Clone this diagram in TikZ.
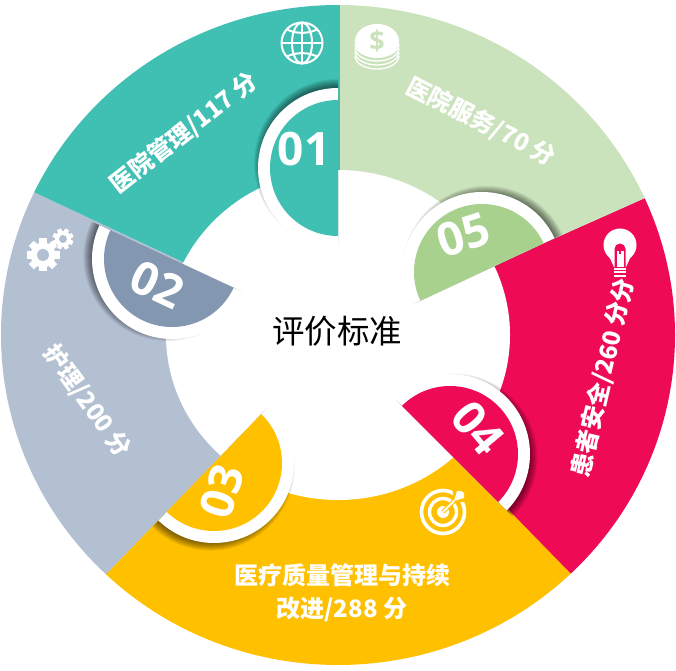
\documentclass[tikz,border=0pt]{standalone}
\usepackage{fontspec}
\newfontfamily\cjk{Noto Sans CJK SC}
\newfontfamily\numfont{Open Sans}
\definecolor{cteal}{HTML}{3FC0B3}
\definecolor{cgreen}{HTML}{CBE3BC}
\definecolor{cpink}{HTML}{EE0A55}
\definecolor{cyellow}{HTML}{FFC000}
\definecolor{cgrey}{HTML}{B3C0D2}
\definecolor{cgreyd}{HTML}{8497B0}
\definecolor{cgreend}{HTML}{A9D18E}
\tikzset{
  lbl/.style={text=white,font=\cjk\bfseries\fontsize{24}{33}\selectfont,inner sep=0pt,align=center},
  numlbl/.style={text=white,font=\numfont\bfseries\fontsize{46}{46}\selectfont,inner sep=0pt},
  iconline/.style={draw=white,line width=2pt,fill=none},
}
% sector: start angle, end angle, colour
\newcommand{\sectorfill}[3]{%
  \fill[#3] (338,335) -- ++(#1:337pt and 330pt)
    arc[start angle=#1,end angle=#2,x radius=337pt,y radius=330pt] -- cycle;}
% half disc: x, y (image), rotation, colour, node name, text x, y, text rotation, number
\newcommand{\halfdisc}[9]{%
  \begin{scope}[shift={(#1,670-#2)},rotate=#3]
    \begin{scope}
      \clip (-130,-130) rectangle (0,130);
      \foreach \k in {0,...,9}{
        \fill[black,opacity=0.07] (0,5) circle[radius=84-\k];
      }
      \fill[white] (0,0) circle[radius=80];
      \fill[#4] (0,0) circle[radius=68];
    \end{scope}
  \end{scope}
  \node[numlbl,rotate=#8] (#5) at (#6,670-#7) {#9};}
\begin{document}
\begin{tikzpicture}[x=1pt,y=1pt]
\useasboundingbox (0,0) rectangle (676,670);
\fill[white] (0,0) rectangle (676,670);
% ring sectors
\sectorfill{89.7}{154.4}{cteal}
\sectorfill{154.4}{226.5}{cgrey}
\sectorfill{226.5}{313.7}{cyellow}
\sectorfill{313.7}{384.5}{cpink}
\sectorfill{24.5}{89.7}{cgreen}
\fill[cteal] (338,670-5) rectangle (340,670-170);
% centre
\fill[white] (338,335) ellipse[x radius=172,y radius=165];
\node[font=\cjk\fontsize{32.5}{36}\selectfont,text=black,inner sep=0pt] (title) at (337,670-331) {评价标准};
% half discs
\halfdisc{482}{272}{-65}{cgreend}{n05}{463}{235}{18}{05}
\halfdisc{450}{454}{-135}{cpink}{n04}{478}{428}{-50}{04}
\halfdisc{214}{463}{-224}{cyellow}{n03}{222}{491}{72}{03}
\halfdisc{172}{259}{-295}{cgreyd}{n02}{157}{285}{-25}{02}
\halfdisc{338}{168}{0}{cteal}{n01}{304}{149}{0}{01}
% labels
\node[lbl,rotate=38] (l1) at (184,670-133) {医院管理/117 分};
\node[lbl,rotate=-27] (l5) at (481,670-122) {医院服务/70 分};
\node[lbl,rotate=77] (l4) at (603,670-378) {患者安全/260 分分};
\node[lbl] (l3) at (342,670-593) {医疗质量管理与持续\\改进/288 分};
\node[lbl,rotate=-54] (l2) at (87,670-401) {护理/200 分};
% globe icon
\begin{scope}[shift={(302,670-43)}]
  \draw[iconline] (0,0) circle[radius=20.5];
  \draw[iconline] (0,0) ellipse[x radius=10,y radius=20.5];
  \draw[iconline] (0,-20.5) -- (0,20.5);
  \draw[iconline] (-20.5,0) -- (20.5,0);
  \draw[iconline] (-15,13.5) .. controls (-6,9) and (6,9) .. (15,13.5);
  \draw[iconline] (-15,-13.5) .. controls (-6,-9) and (6,-9) .. (15,-13.5);
\end{scope}
% coin icon
\begin{scope}[shift={(377,670-41)}]
  \foreach \d in {8,12,16,20}{
    \draw[white,line width=1.3pt] (-22,-\d+5) arc[start angle=180,end angle=360,x radius=22,y radius=13];
  }
  \fill[white] (0,0) ellipse[x radius=22,y radius=17];
  \node[font=\numfont\bfseries\fontsize{27}{27}\selectfont,text=cgreen,inner sep=0pt] (dollar) at (0,0) {\$};
\end{scope}
% bulb icon
\begin{scope}[shift={(620,670-245)}]
  \fill[white] (0,0) circle[radius=16.5];
  \fill[white] (-12,-9) -- (-6,-22) -- (6,-22) -- (12,-9) -- cycle;
  \fill[cpink] (-5.5,-22) -- (-5.5,-4) arc[start angle=180,end angle=0,radius=5.5] -- (5.5,-22) -- cycle;
  \fill[white] (-3.5,-22) -- (-3.5,-6) -- (3.5,-6) -- (3.5,-22) -- cycle;
  \fill[cpink] (-1.4,-5) rectangle (1.4,-9);
  \foreach \d in {-23,-26.5,-30}{
    \fill[white] (-6,\d) rectangle (6,\d-1.8);
  }
\end{scope}
% gear icons
\begin{scope}[shift={(43,670-255)}]
  \foreach \a in {0,45,...,315}{
    \fill[white,rotate=\a] (-3.6,10) rectangle (3.6,16.5);
  }
  \fill[white] (0,0) circle[radius=12.5];
  \fill[cgrey] (0,0) circle[radius=6];
\end{scope}
\begin{scope}[shift={(63,670-239)}]
  \foreach \a in {22,67,...,337}{
    \fill[white,rotate=\a] (-2.2,6) rectangle (2.2,10.5);
  }
  \fill[white] (0,0) circle[radius=8];
  \fill[cgrey] (0,0) circle[radius=4];
\end{scope}
% target icon
\begin{scope}[shift={(443,670-512)}]
  \draw[white,line width=3.6pt] (0,0) circle[radius=21.5];
  \draw[white,line width=3.4pt] (0,0) circle[radius=13.5];
  \fill[white] (0,0) circle[radius=6];
  \draw[cyellow,line width=4pt] (0,0) -- (15,15);
  \draw[white,line width=2pt] (0,0) -- (15,15);
  \fill[cyellow] (8,28) -- (12,9) -- (28,11) -- cycle;
  \fill[white] (11,11) -- (14,21) -- (18,21) -- (21,19) -- (21,14) -- cycle;
\end{scope}
\end{tikzpicture}
\end{document}
